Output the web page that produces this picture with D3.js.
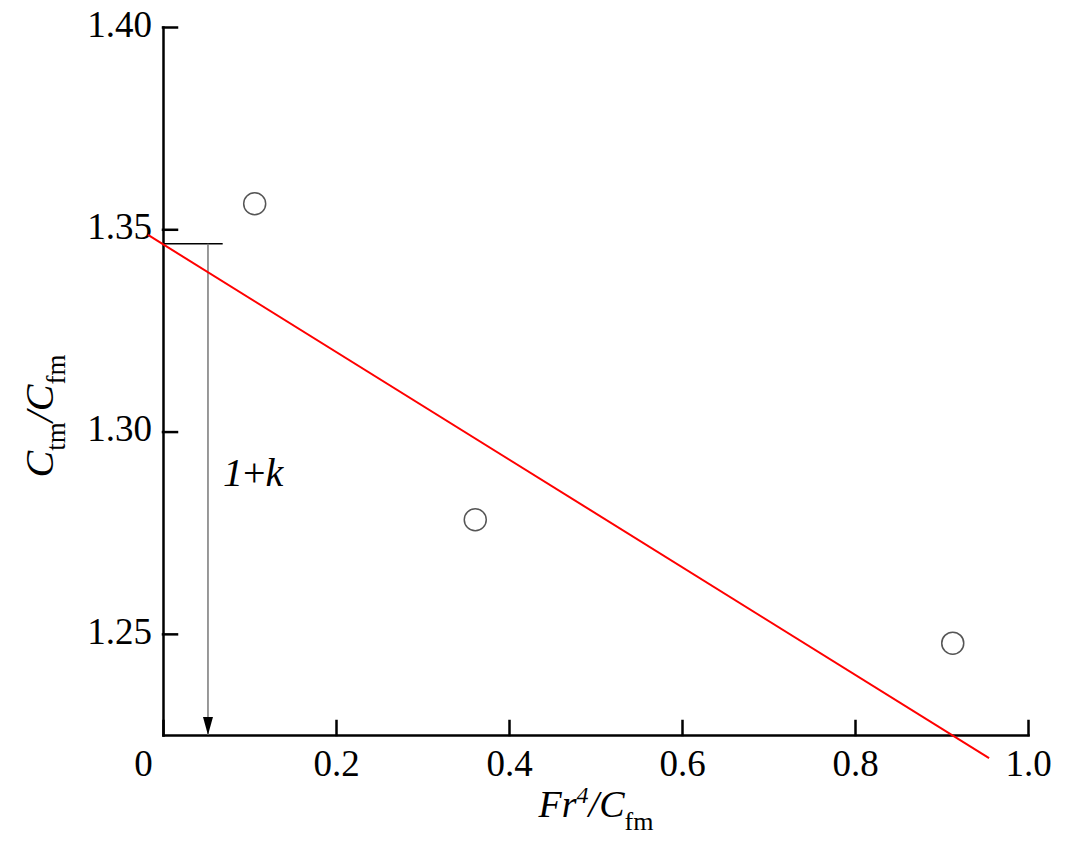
<!DOCTYPE html>
<meta charset="utf-8">
<script src="https://d3js.org/d3.v7.min.js"></script>
<style>
  body { margin: 0; background: #fff; }
  text { font-family: "Liberation Serif", "Times New Roman", serif; }
</style>
<div id="svg_div"></div>
<script>
// measured points
var ptX = [0.106, 0.361, 0.913];
var ptY = [1.3563, 1.2782, 1.2477];

// fitted red line, end points as drawn
var fitX = [-0.0173, 0.955];
var fitY = [1.3486, 1.2193];

// 1+k marker
var interceptY = 1.3464;
var markX = 0.052, markEnd = 0.069;

var xTicks = [0, 0.2, 0.4, 0.6, 0.8, 1.0];
var yTicks = [1.25, 1.30, 1.35, 1.40];

var width = 1071, height = 844;
var svg = d3.select("#svg_div").append("svg").attr("width", width).attr("height", height);

var x = d3.scaleLinear().domain([0, 1]).range([163, 1028]);
var y = d3.scaleLinear().domain([1.225, 1.40]).range([735, 27]);

var defs = svg.append("defs");
defs.append("marker").attr("id", "arrow")
  .attr("viewBox", "0 0 18 10").attr("refX", 18).attr("refY", 5)
  .attr("markerWidth", 18).attr("markerHeight", 10)
  .attr("markerUnits", "userSpaceOnUse").attr("orient", "auto")
  .append("path").attr("d", "M0,0L18,5L0,10Z").attr("fill", "#000");

// x axis
var xAxis = svg.append("g").attr("transform", "translate(0,735)")
  .call(d3.axisBottom(x).tickValues(xTicks).tickSizeInner(-14).tickSizeOuter(0).tickPadding(15)
    .tickFormat(function(d) { return d === 0 ? "0" : d3.format(".1f")(d); }));
xAxis.selectAll("text").attr("font-size", 37).attr("fill", "#000")
  .attr("dx", function(d) { return d === 0 ? -20 : 0; });

// y axis
var yAxis = svg.append("g").attr("transform", "translate(163,0)")
  .call(d3.axisLeft(y).tickValues(yTicks).tickSizeInner(-14).tickSizeOuter(0).tickPadding(11)
    .tickFormat(d3.format(".2f")));
yAxis.selectAll("text").attr("font-size", 37).attr("fill", "#000")
  .attr("dy", "0.25em");

svg.selectAll(".domain, .tick line").attr("stroke", "#000").attr("stroke-width", 2.5).attr("stroke-linecap", "square");

// intercept mark
svg.append("line")
  .attr("x1", x(0)).attr("x2", x(markEnd))
  .attr("y1", y(interceptY)).attr("y2", y(interceptY))
  .attr("stroke", "#000").attr("stroke-width", 1.5);

svg.append("line")
  .attr("x1", x(markX)).attr("x2", x(markX))
  .attr("y1", y(interceptY)).attr("y2", y(1.225))
  .attr("stroke", "#777").attr("stroke-width", 1.5)
  .attr("marker-end", "url(#arrow)");

var lbl = svg.append("text").attr("x", 223).attr("y", 486).attr("font-size", 40);
lbl.append("tspan").attr("font-style", "italic").text("1");
lbl.append("tspan").text("+");
lbl.append("tspan").attr("font-style", "italic").text("k");

// fit line
svg.append("path")
  .datum(d3.zip(fitX, fitY))
  .attr("d", d3.line().x(function(d) { return x(d[0]); }).y(function(d) { return y(d[1]); }))
  .attr("fill", "none").attr("stroke", "#ff0000").attr("stroke-width", 2);

// points
svg.selectAll("circle.pt").data(d3.zip(ptX, ptY)).enter().append("circle")
  .attr("class", "pt")
  .attr("cx", function(d) { return x(d[0]); })
  .attr("cy", function(d) { return y(d[1]); })
  .attr("r", 11)
  .attr("fill", "none").attr("stroke", "#555").attr("stroke-width", 1.5);

// x label
var xl = svg.append("text").attr("x", 596).attr("y", 817).attr("text-anchor", "middle").attr("font-size", 38);
xl.append("tspan").attr("font-style", "italic").text("Fr");
xl.append("tspan").attr("font-style", "italic").attr("font-size", 24).attr("dy", -14).text("4");
xl.append("tspan").attr("font-style", "italic").attr("dy", 14).text("/C");
xl.append("tspan").attr("font-size", 26).attr("dy", 13).text("fm");

// y label
var yl = svg.append("text").attr("transform", "translate(53,416) rotate(-90)")
  .attr("text-anchor", "middle").attr("font-size", 40);
yl.append("tspan").attr("font-style", "italic").text("C");
yl.append("tspan").attr("font-size", 27).attr("dy", 12).text("tm");
yl.append("tspan").attr("font-style", "italic").attr("dy", -12).text("/C");
yl.append("tspan").attr("font-size", 27).attr("dy", 12).text("fm");
</script>
